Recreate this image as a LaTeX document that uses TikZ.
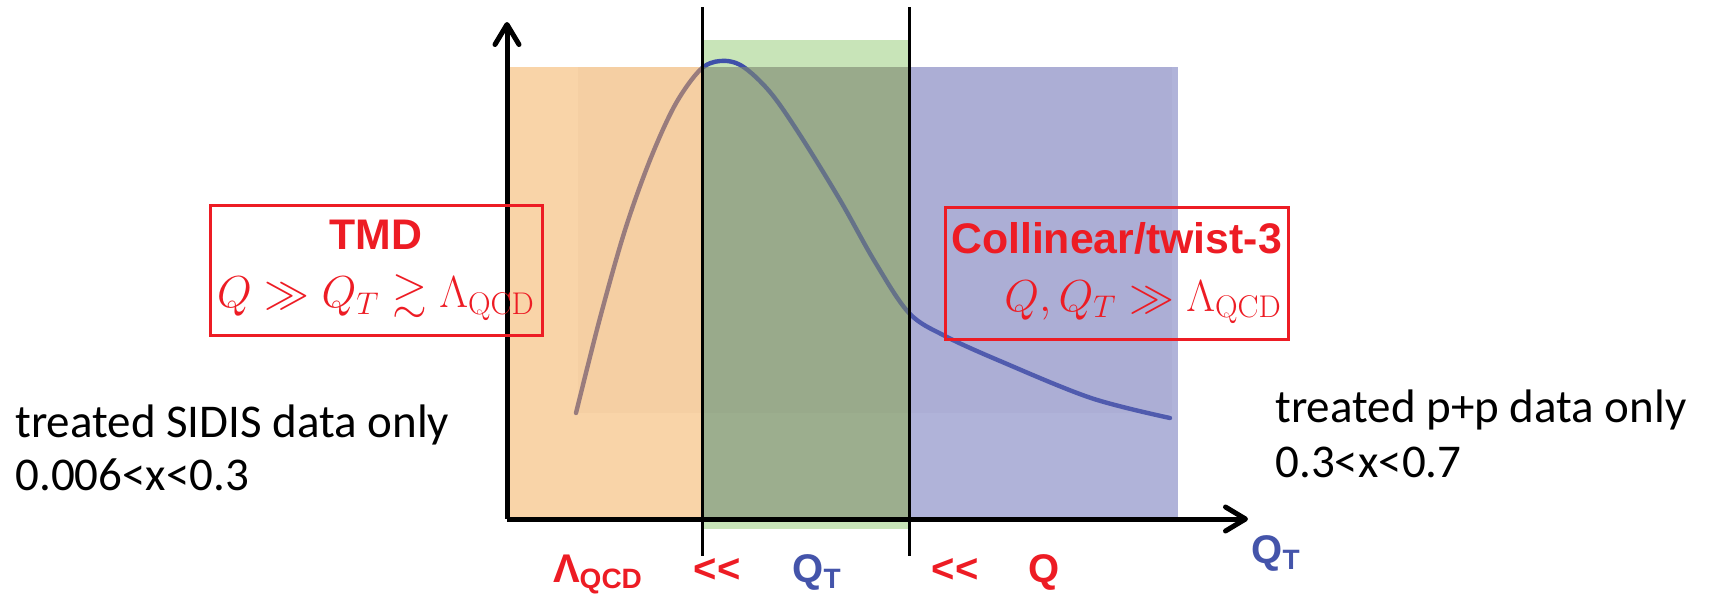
\RequirePackage{fix-cm}
\documentclass[tikz,border=0pt]{standalone}
\usepackage{amsmath}
\usepackage{amssymb}
\usepackage{fontspec}
\newfontfamily\arialfont{Liberation Sans}
\newfontfamily\calibrifont{Carlito}
\newcommand{\headfont}{\fontsize{21.4}{25}\arialfont\bfseries}
\usepackage{tikz}
\usetikzlibrary{arrows.meta, positioning}

\definecolor{hepred}{RGB}{237,28,36}
\definecolor{hepblue}{RGB}{68,84,170}
\definecolor{curveblue}{RGB}{63,80,170}
\definecolor{lightgreen}{RGB}{200,228,184}
\definecolor{tmdfill}{RGB}{243,169,81}
\definecolor{midfill}{RGB}{127,138,114}
\definecolor{colfill}{RGB}{97,103,179}

\begin{document}
\begin{tikzpicture}[
      x=0.5pt, y=-0.5pt,
      region/.style={fill opacity=.5},
      axis/.style={line width=2.5pt, -{Straight Barb[length=10pt, width=12pt, round]}},
      divider/.style={line width=1.5pt},
      frame/.style={draw=hepred, line width=1.5pt, text=hepred, inner sep=0pt,
      font=\fontsize{22.4}{26}\selectfont},
      note/.style={font=\fontsize{23.5}{26.5}\calibrifont, align=left, inner sep=0pt, anchor=base west},
      tag/.style={font=\fontsize{20}{23}\arialfont\bfseries, inner sep=0pt, anchor=base}
    ]
    \useasboundingbox (0,0) rectangle (1711,594);

    % regions and the curve under them
    \fill[lightgreen] (702,40) rectangle (909,529);
    \fill[black, fill opacity=.035] (578,67) rectangle (1172,413);
    \draw[curveblue, line width=2.2pt, line cap=round] plot[smooth, tension=.55] coordinates
      {(576,413) (600,318) (625,230) (650,160) (675,105) (700,70) (720,61) (742,66)
       (770,92) (800,135) (840,200) (875,262) (909,313) (945,336) (1000,361)
       (1091,398) (1170,418)};
    \fill[tmdfill, region] (507,67) rectangle (702,517);
    \fill[midfill, fill opacity=.6] (702,67) rectangle (909,517);
    \fill[colfill, region] (909,67) rectangle (1178,517);

    % axes and dividers
    \coordinate (O) at (507,519);
    \coordinate (ytip) at (507,22);
    \coordinate (xtip) at (1248,519);
    \coordinate (lowtop) at (702,7);
    \coordinate (lowbot) at (702,556);
    \coordinate (hightop) at (909,7);
    \coordinate (highbot) at (909,556);
    \draw[axis] (O) -- (ytip);
    \draw[axis] (O) -- (xtip);
    \draw[divider] (lowtop) -- (lowbot);
    \draw[divider] (hightop) -- (highbot);

    % regimes
    \node[frame, minimum width=166pt, minimum height=65pt, align=center] (tmd) at (376,270)
    {{\headfont TMD}\\[3pt]$Q \gg Q_T \gtrsim \Lambda_{\mathrm{QCD}}$};
    \node[frame, minimum width=171.5pt, minimum height=66pt, align=right] (col) at (1116.5,273)
    {{\headfont Collinear/twist-3}\\[3pt]$Q, Q_T \gg \Lambda_{\mathrm{QCD}}$};

    \node[note] (sidis) at (15,490) {treated SIDIS data only\\0.006<x<0.3};
    \node[note, font=\fontsize{23.5}{27.5}\calibrifont] (pp) at (1275,477)
    {treated p+p data only\\0.3<x<0.7};

    % scale ordering
    \node[tag, text=hepred] (lqcd) at (598,582) {Λ\textsubscript{QCD}};
    \node[tag, text=hepred] (ll1) at (717,582) {<\kern0pt<};
    \node[tag, text=hepblue] (qt) at (817,582) {Q\textsubscript{T}};
    \node[tag, text=hepred] (ll2) at (955,582) {<\kern0pt<};
    \node[tag, text=hepred] (qq) at (1044,582) {Q};
    \node[tag, text=hepblue] (qtaxis) at (1276,563) {Q\textsubscript{T}};
  \end{tikzpicture}
\end{document}
